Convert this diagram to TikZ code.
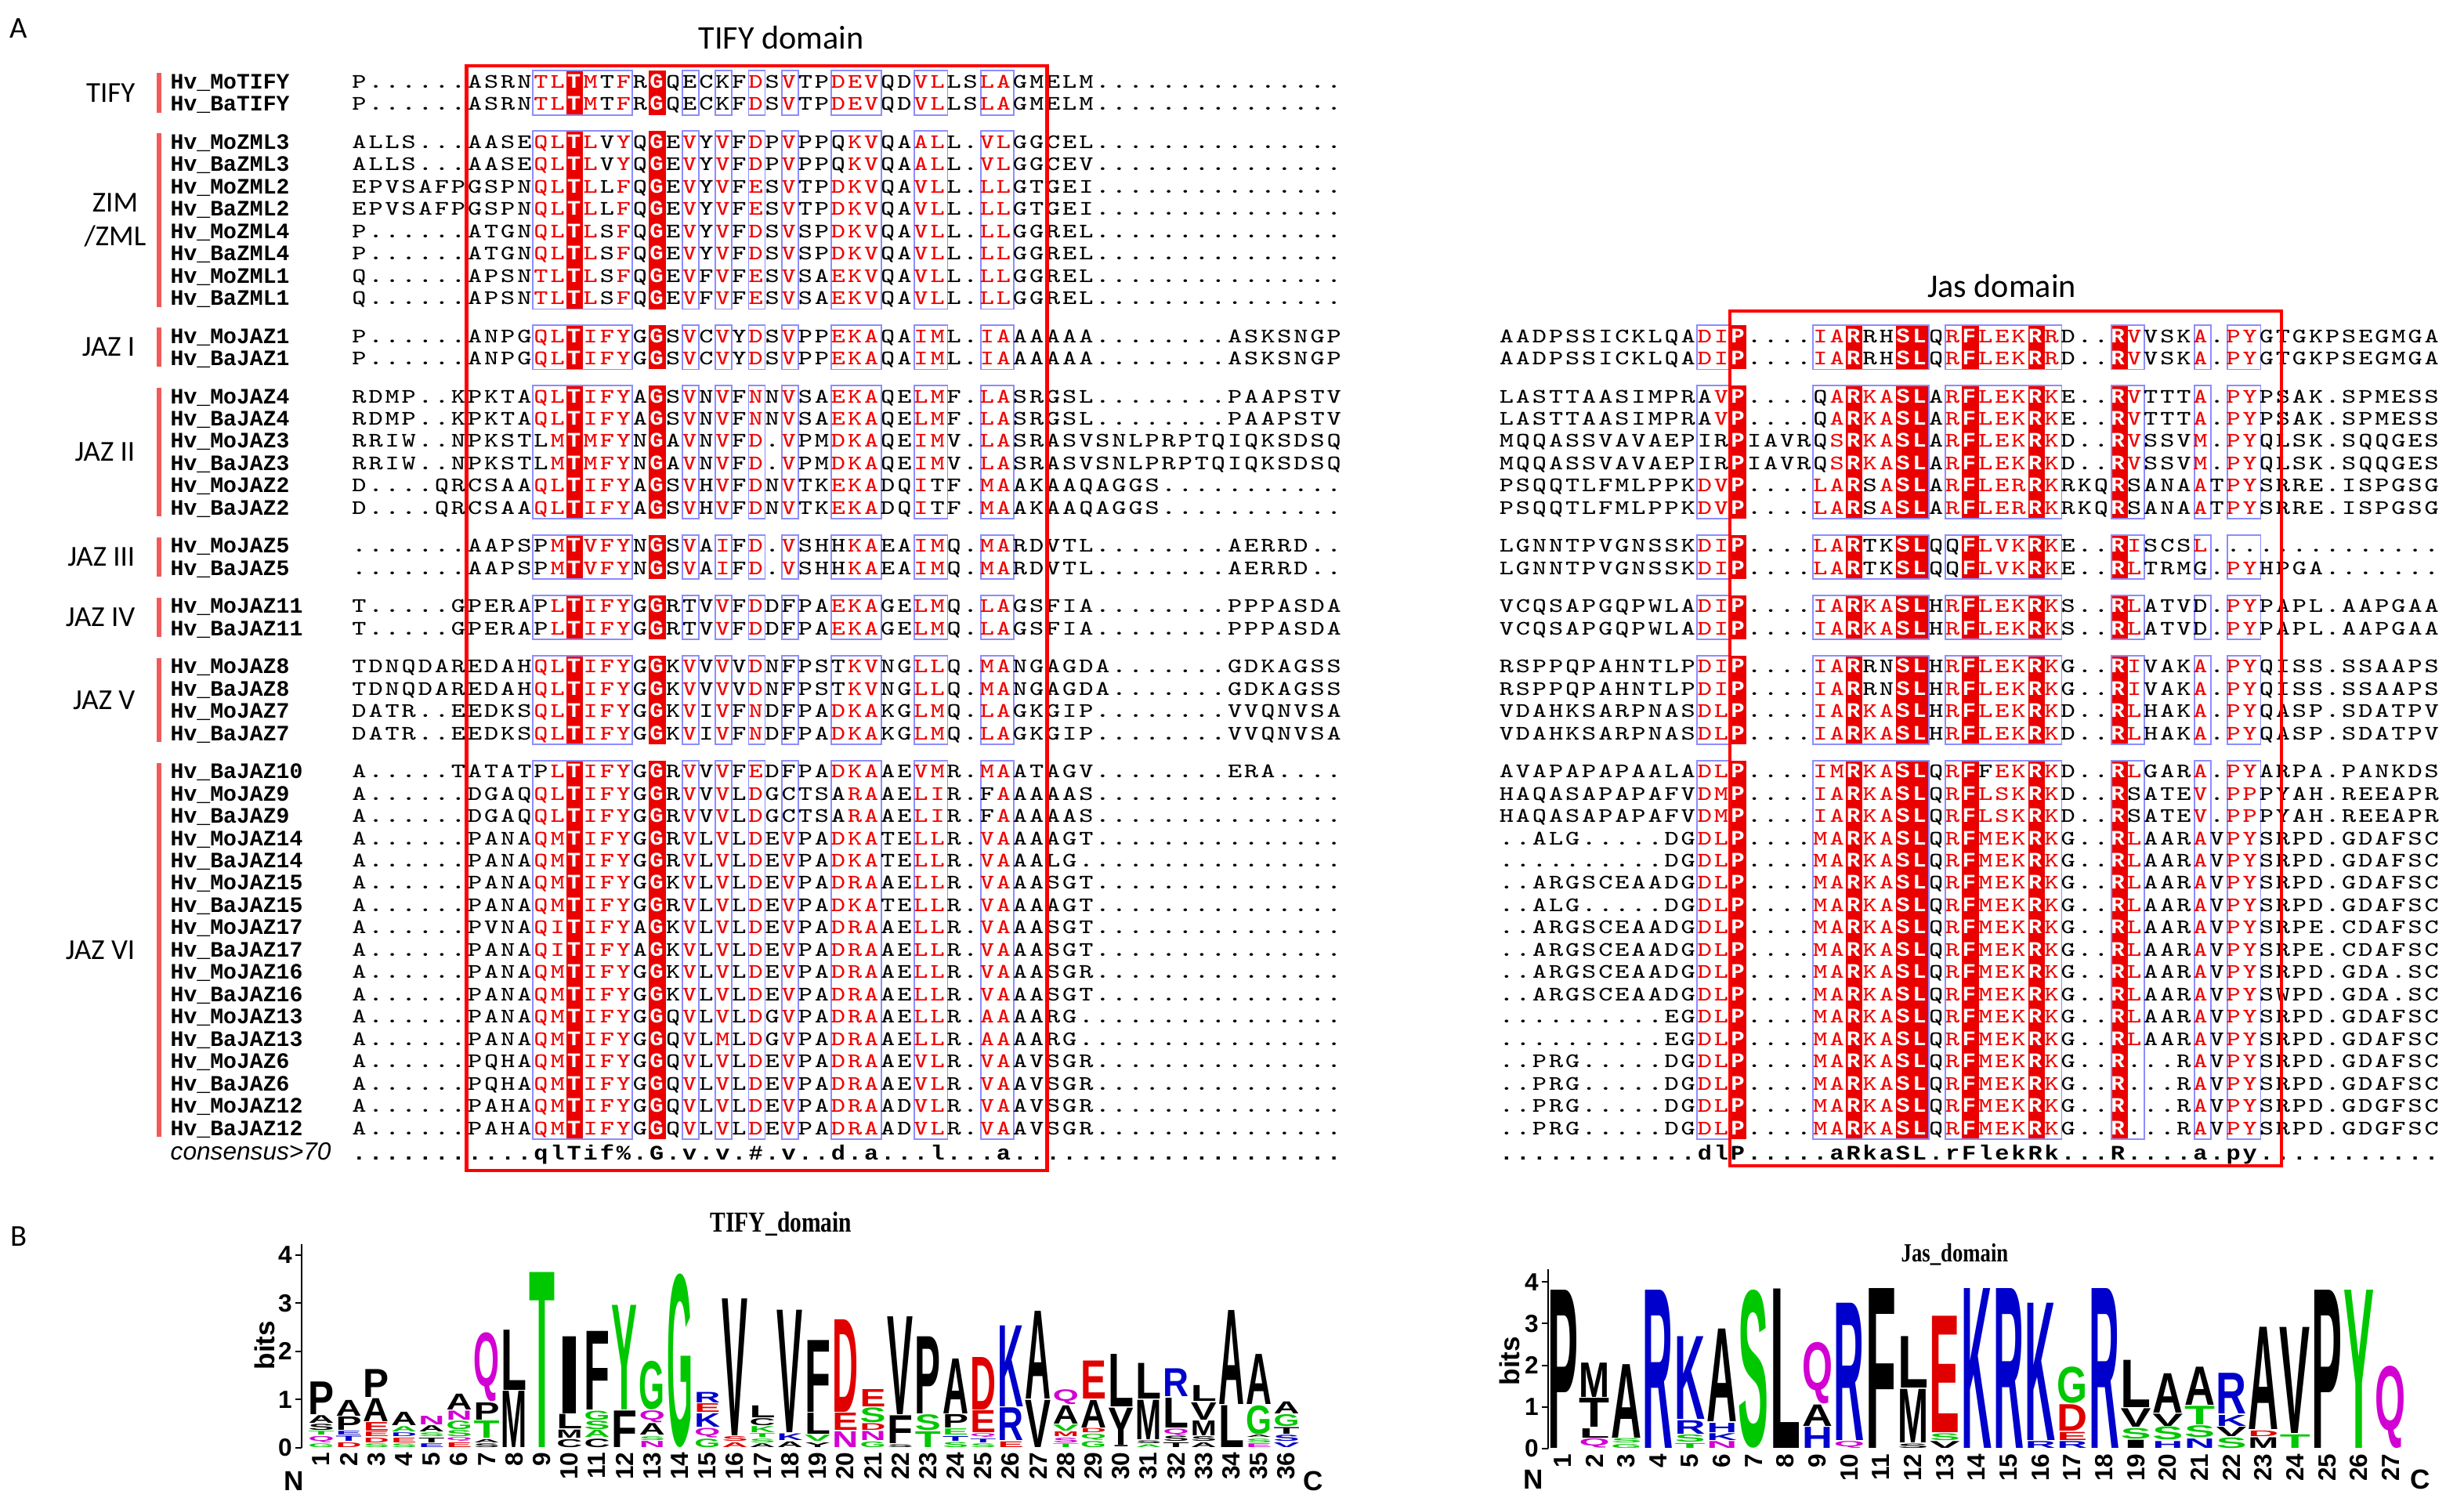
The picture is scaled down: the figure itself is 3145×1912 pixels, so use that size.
\documentclass[tikz,border=0pt]{standalone}
\usepackage{fontspec}
\usepackage{graphicx}
\usetikzlibrary{positioning}
\newfontfamily\namefont{Liberation Mono}
\newfontfamily\lblfont{Carlito}
\newfontfamily\logofont{Liberation Sans}
\newfontfamily\ttlfont{Liberation Serif}
\definecolor{alnred}{RGB}{240,0,0}
\definecolor{fillred}{RGB}{235,0,0}
\definecolor{framblue}{RGB}{140,140,255}
\definecolor{barred}{RGB}{240,90,90}
\definecolor{lk}{RGB}{0,0,0}
\definecolor{lg}{RGB}{0,200,0}
\definecolor{lb}{RGB}{0,0,204}
\definecolor{lr}{RGB}{225,0,0}
\definecolor{lm}{RGB}{210,0,210}

% alignment rows: lowercase = similar (red), fill columns = identical (white on red)
\newcount\colno
\def\fillset{L}
\def\markfill#1#2{\expandafter\def\csname fc@#1#2\endcsname{}}
\markfill{L}{14}\markfill{L}{19}
\markfill{R}{15}\markfill{R}{22}\markfill{R}{25}\markfill{R}{26}
\markfill{R}{29}\markfill{R}{33}\markfill{R}{38}
\def\alnbox#1{\makebox[6pt]{\scalebox{1.3}[1]{#1}}}
\def\alnput#1{\advance\colno by 1
  \ifnum\uccode`#1=0 \alnbox{#1}%
  \else\ifnum\uccode`#1=`#1
    \ifcsname fc@\fillset\the\colno\endcsname
      \makebox[6pt]{\scalebox{1.1}[1]{\color{white}\namefont\bfseries #1}}%
    \else\alnbox{#1}\fi
  \else\alnbox{\color{alnred}\uppercase{#1}}%
  \fi\fi}
\def\alnloop#1{\ifx#1\relax\else\alnput{#1}\expandafter\alnloop\fi}
\def\alnrow#1{\colno=0 \alnloop#1\relax}
\def\consloop#1{\ifx#1\relax\else\makebox[6pt]{\scalebox{1.15}[1]{#1}}\expandafter\consloop\fi}

\begin{document}
\begin{tikzpicture}[
    x=0.1mm, y=-0.1mm,
    seqname/.style={anchor=base west, inner sep=0, font=\namefont\bfseries\fontsize{8}{9}\selectfont},
    seqtext/.style={anchor=base west, inner sep=0, font=\ttfamily\fontsize{7.5}{9}\selectfont},
    constext/.style={anchor=base west, inner sep=0, font=\namefont\bfseries\fontsize{7.5}{9}\selectfont},
    grplabel/.style={anchor=east, inner sep=0, align=center, font=\lblfont\fontsize{10.5}{12}\selectfont},
    paneltitle/.style={inner sep=0, font=\lblfont\fontsize{12}{14}\selectfont},
    fillcell/.style={fill=fillred, draw=none},
    framecell/.style={draw=framblue, line width=0.5pt},
    domainbox/.style={draw=red, line width=1.2pt},
    groupbar/.style={draw=barred, line width=1.6pt},
    logoletter/.style={inner sep=0, outer sep=0, anchor=south, font=\logofont\bfseries},
    logoaxis/.style={draw=black, line width=0.6pt},
    ticklabel/.style={anchor=east, inner sep=1pt, font=\logofont\bfseries\fontsize{9}{9}\selectfont},
    colnum/.style={rotate=90, anchor=east, inner sep=0, font=\logofont\bfseries\fontsize{9}{9}\selectfont},
    endlabel/.style={inner sep=0, font=\logofont\bfseries\fontsize{10}{10}\selectfont},
    logotitle/.style={inner sep=0, font=\ttlfont\bfseries\fontsize{10.5}{12}\selectfont}
]
\useasboundingbox (0,0) rectangle (3145,1912);
\fill[white] (0,0) rectangle (3145,1912);

\newcommand\colbox[7]{\draw[#7] ({#1+(#5-1)*21.17},{104.3+28.46*#2+20.06*#4-14}) rectangle ({#1+#6*21.17},{104.3+28.46*#3+20.06*#4+14});}
\newcommand\seqrow[5]{%
  \pgfmathsetmacro\ry{104.3+28.46*#1+20.06*#2}%
  \node[seqname] (n#1) at (217,\ry+9) {Hv\_#3};
  \node[seqtext] (l#1) at (447.3,\ry+8) {\def\fillset{L}\alnrow{#4}};
  \ifx\relax#5\relax\else
    \node[seqtext] (r#1) at (1911.6,\ry+8) {\def\fillset{R}\alnrow{#5}};
  \fi}
\newcommand\logocol[5]{%
  \gdef\lbot{0}%
  \foreach \lt/\lc/\lh in {#5}{%
    \pgfmathsetlengthmacro\lhh{max(\lh*#3*0.1mm-0.14mm,0.06mm)}%
    \node[logoletter, text=\lc] at ({#1},{#2-\lbot*#3-0.7}) {\resizebox*{#4}{\lhh}{\lt}};
    \pgfmathparse{\lbot+\lh}\xdef\lbot{\pgfmathresult}}}
\newcommand\tifycol[2]{\logocol{410+(#1-1)*35.2}{1848}{61.6}{3.3mm}{#2}}
\newcommand\jascol[2]{\logocol{1994.5+(#1-1)*40.65}{1849}{53.2}{3.9mm}{#2}}

% panel A: shading and frames
\foreach \ra/\rb/\gg in {0/1/0,2/9/1,10/11/2,12/17/3,18/19/4,20/21/5,22/25/6,26/42/7}{
  \foreach \ca/\cb in {14/14,19/19} {\colbox{447.3}{\ra}{\rb}{\gg}{\ca}{\cb}{fillcell}}
  \foreach \ca/\cb in {12/17,21/21,23/23,25/25,27/27,30/32,35/36,39/40} {\colbox{447.3}{\ra}{\rb}{\gg}{\ca}{\cb}{framecell}}
  \draw[groupbar] (203,{104.3+28.46*\ra+20.06*\gg-11}) -- (203,{104.3+28.46*\rb+20.06*\gg+11});
}
\foreach \ra/\rb/\gg in {10/11/2,12/17/3,18/19/4,20/21/5,22/25/6,26/42/7}{
  \foreach \ca/\cb in {15/15,22/22,25/26,29/29,33/33,38/38} {\colbox{1911.6}{\ra}{\rb}{\gg}{\ca}{\cb}{fillcell}}
  \foreach \ca/\cb in {13/14,20/26,28/34,38/39,43/43,45/46} {\colbox{1911.6}{\ra}{\rb}{\gg}{\ca}{\cb}{framecell}}
}

% group labels
\node[grplabel] (gTIFY) at (173,118.5) {TIFY};
\node[grplabel] (gZML) at (187,280.9) {ZIM\\/ZML};
\node[grplabel] (gJ1) at (173,443.2) {JAZ I};
\node[grplabel] (gJ2) at (173,577.2) {JAZ II};
\node[grplabel] (gJ3) at (173,711) {JAZ III};
\node[grplabel] (gJ4) at (173,788) {JAZ IV};
\node[grplabel] (gJ5) at (173,893.5) {JAZ V};
\node[grplabel] (gJ6) at (173,1212.3) {JAZ VI};

% sequences
\seqrow{0}{0}{MoTIFY}{P......ASRNtlTmTfRGQECKFdSvTPdevQDvlLSlaGMELM...............}{}
\seqrow{1}{0}{BaTIFY}{P......ASRNtlTmTfRGQECKFdSvTPdevQDvlLSlaGMELM...............}{}
\seqrow{2}{1}{MoZML3}{ALLS...AASEqlTlVyQGEvYvFdPvPPQkvQAalL.vlGGCEL...............}{}
\seqrow{3}{1}{BaZML3}{ALLS...AASEqlTlVyQGEvYvFdPvPPQkvQAalL.vlGGCEV...............}{}
\seqrow{4}{1}{MoZML2}{EPVSAFPGSPNqlTlLfQGEvYvFeSvTPdkvQAvlL.llGTGEI...............}{}
\seqrow{5}{1}{BaZML2}{EPVSAFPGSPNqlTlLfQGEvYvFeSvTPdkvQAvlL.llGTGEI...............}{}
\seqrow{6}{1}{MoZML4}{P......ATGNqlTlSfQGEvYvFdSvSPdkvQAvlL.llGGREL...............}{}
\seqrow{7}{1}{BaZML4}{P......ATGNqlTlSfQGEvYvFdSvSPdkvQAvlL.llGGREL...............}{}
\seqrow{8}{1}{MoZML1}{Q......APSNtlTlSfQGEvFvFeSvSAekvQAvlL.llGGREL...............}{}
\seqrow{9}{1}{BaZML1}{Q......APSNtlTlSfQGEvFvFeSvSAekvQAvlL.llGGREL...............}{}
\seqrow{10}{2}{MoJAZ1}{P......ANPGqlTifyGGSvCvYdSvPPekaQAimL.iaAAAAA........ASKSNGP}{AADPSSICKLQAdiP....iaRRHSLQrFlekRrD..RvVSKa.pyGTGKPSEGMGA}
\seqrow{11}{2}{BaJAZ1}{P......ANPGqlTifyGGSvCvYdSvPPekaQAimL.iaAAAAA........ASKSNGP}{AADPSSICKLQAdiP....iaRRHSLQrFlekRrD..RvVSKa.pyGTGKPSEGMGA}
\seqrow{12}{3}{MoJAZ4}{RDMP..KPKTAqlTifyAGSvNvFnNvSAekaQElmF.laSRGSL........PAAPSTV}{LASTTAASIMPRAvP....QaRkaSLArFlekRkE..RvTTTa.pyPSAK.SPMESS}
\seqrow{13}{3}{BaJAZ4}{RDMP..KPKTAqlTifyAGSvNvFnNvSAekaQElmF.laSRGSL........PAAPSTV}{LASTTAASIMPRAvP....QaRkaSLArFlekRkE..RvTTTa.pyPSAK.SPMESS}
\seqrow{14}{3}{MoJAZ3}{RRIW..NPKSTLmTmfyNGAvNvFd.vPMdkaQEimV.laSRASVSNLPRPTQIQKSDSQ}{MQQASSVAVAEPIRPIAVRQsRkaSLArFlekRkD..RvSSVm.pyQLSK.SQQGES}
\seqrow{15}{3}{BaJAZ3}{RRIW..NPKSTLmTmfyNGAvNvFd.vPMdkaQEimV.laSRASVSNLPRPTQIQKSDSQ}{MQQASSVAVAEPIRPIAVRQsRkaSLArFlekRkD..RvSSVm.pyQLSK.SQQGES}
\seqrow{16}{3}{MoJAZ2}{D....QRCSAAqlTifyAGSvHvFdNvTKekaDQiTF.maAKAAQAGGS...........}{PSQQTLFMLPPKdvP....laRSaSLArFlerRkRKQRSANAaTpySRRE.ISPGSG}
\seqrow{17}{3}{BaJAZ2}{D....QRCSAAqlTifyAGSvHvFdNvTKekaDQiTF.maAKAAQAGGS...........}{PSQQTLFMLPPKdvP....laRSaSLArFlerRkRKQRSANAaTpySRRE.ISPGSG}
\seqrow{18}{4}{MoJAZ5}{.......AAPSPmTvfyNGSvAiFd.vSHHkaEAimQ.maRDVTL........AERRD..}{LGNNTPVGNSSKdiP....laRTKSLQQFlvkRkE..RiSCSl..............}
\seqrow{19}{4}{BaJAZ5}{.......AAPSPmTvfyNGSvAiFd.vSHHkaEAimQ.maRDVTL........AERRD..}{LGNNTPVGNSSKdiP....laRTKSLQQFlvkRkE..RlTRMG.pyHPGA.......}
\seqrow{20}{5}{MoJAZ11}{T.....GPERAPlTifyGGRTVvFdDFPAekaGElmQ.laGSFIA........PPPASDA}{VCQSAPGQPWLAdiP....iaRkaSLHrFlekRkS..RlATVD.pyPAPL.AAPGAA}
\seqrow{21}{5}{BaJAZ11}{T.....GPERAPlTifyGGRTVvFdDFPAekaGElmQ.laGSFIA........PPPASDA}{VCQSAPGQPWLAdiP....iaRkaSLHrFlekRkS..RlATVD.pyPAPL.AAPGAA}
\seqrow{22}{6}{MoJAZ8}{TDNQDAREDAHqlTifyGGKvVvVdNFPSTkvNGllQ.maNGAGDA.......GDKAGSS}{RSPPQPAHNTLPdiP....iaRRNSLHrFlekRkG..RiVAKa.pyQISS.SSAAPS}
\seqrow{23}{6}{BaJAZ8}{TDNQDAREDAHqlTifyGGKvVvVdNFPSTkvNGllQ.maNGAGDA.......GDKAGSS}{RSPPQPAHNTLPdiP....iaRRNSLHrFlekRkG..RiVAKa.pyQISS.SSAAPS}
\seqrow{24}{6}{MoJAZ7}{DATR..EEDKSqlTifyGGKvIvFnDFPAdkaKGlmQ.laGKGIP........VVQNVSA}{VDAHKSARPNASdlP....iaRkaSLHrFlekRkD..RlHAKa.pyQASP.SDATPV}
\seqrow{25}{6}{BaJAZ7}{DATR..EEDKSqlTifyGGKvIvFnDFPAdkaKGlmQ.laGKGIP........VVQNVSA}{VDAHKSARPNASdlP....iaRkaSLHrFlekRkD..RlHAKa.pyQASP.SDATPV}
\seqrow{26}{7}{BaJAZ10}{A.....TATATPlTifyGGRvVvFeDFPAdkaAEvmR.maATAGV........ERA....}{AVAPAPAPAALAdlP....imRkaSLQrFFekRkD..RlGARa.pyARPA.PANKDS}
\seqrow{27}{7}{MoJAZ9}{A......DGAQqlTifyGGRvVvLdGCTSAraAEliR.FaAAAAS...............}{HAQASAPAPAFVdmP....iaRkaSLQrFlskRkD..RSATEv.ppPYAH.REEAPR}
\seqrow{28}{7}{BaJAZ9}{A......DGAQqlTifyGGRvVvLdGCTSAraAEliR.FaAAAAS...............}{HAQASAPAPAFVdmP....iaRkaSLQrFlskRkD..RSATEv.ppPYAH.REEAPR}
\seqrow{29}{7}{MoJAZ14}{A......PANAqmTifyGGRvLvLdEvPAdkaTEllR.vaAAAGT...............}{..ALG.....DGdlP....maRkaSLQrFmekRkG..RlAARaVpySRPD.GDAFSC}
\seqrow{30}{7}{BaJAZ14}{A......PANAqmTifyGGRvLvLdEvPAdkaTEllR.vaAALG................}{..........DGdlP....maRkaSLQrFmekRkG..RlAARaVpySRPD.GDAFSC}
\seqrow{31}{7}{MoJAZ15}{A......PANAqmTifyGGKvLvLdEvPAdraAEllR.vaAASGT...............}{..ARGSCEAADGdlP....maRkaSLQrFmekRkG..RlAARaVpySRPD.GDAFSC}
\seqrow{32}{7}{BaJAZ15}{A......PANAqmTifyGGRvLvLdEvPAdkaTEllR.vaAAAGT...............}{..ALG.....DGdlP....maRkaSLQrFmekRkG..RlAARaVpySRPD.GDAFSC}
\seqrow{33}{7}{MoJAZ17}{A......PVNAqiTifyAGKvLvLdEvPAdraAEllR.vaAASGT...............}{..ARGSCEAADGdlP....maRkaSLQrFmekRkG..RlAARaVpySRPE.CDAFSC}
\seqrow{34}{7}{BaJAZ17}{A......PANAqiTifyAGKvLvLdEvPAdraAEllR.vaAASGT...............}{..ARGSCEAADGdlP....maRkaSLQrFmekRkG..RlAARaVpySRPE.CDAFSC}
\seqrow{35}{7}{MoJAZ16}{A......PANAqmTifyGGKvLvLdEvPAdraAEllR.vaAASGR...............}{..ARGSCEAADGdlP....maRkaSLQrFmekRkG..RlAARaVpySRPD.GDA.SC}
\seqrow{36}{7}{BaJAZ16}{A......PANAqmTifyGGKvLvLdEvPAdraAEllR.vaAASGT...............}{..ARGSCEAADGdlP....maRkaSLQrFmekRkG..RlAARaVpySWPD.GDA.SC}
\seqrow{37}{7}{MoJAZ13}{A......PANAqmTifyGGQvLvLdGvPAdraAEllR.aaAARG................}{..........EGdlP....maRkaSLQrFmekRkG..RlAARaVpySRPD.GDAFSC}
\seqrow{38}{7}{BaJAZ13}{A......PANAqmTifyGGQvLmLdGvPAdraAEllR.aaAARG................}{..........EGdlP....maRkaSLQrFmekRkG..RlAARaVpySRPD.GDAFSC}
\seqrow{39}{7}{MoJAZ6}{A......PQHAqmTifyGGQvLvLdEvPAdraAEvlR.vaAVSGR...............}{..PRG.....DGdlP....maRkaSLQrFmekRkG..R...RaVpySRPD.GDAFSC}
\seqrow{40}{7}{BaJAZ6}{A......PQHAqmTifyGGQvLvLdEvPAdraAEvlR.vaAVSGR...............}{..PRG.....DGdlP....maRkaSLQrFmekRkG..R...RaVpySRPD.GDAFSC}
\seqrow{41}{7}{MoJAZ12}{A......PAHAqmTifyGGQvLvLdEvPAdraADvlR.vaAVSGR...............}{..PRG.....DGdlP....maRkaSLQrFmekRkG..R...RaVpySRPD.GDGFSC}
\seqrow{42}{7}{BaJAZ12}{A......PAHAqmTifyGGQvLvLdEvPAdraADvlR.vaAVSGR...............}{..PRG.....DGdlP....maRkaSLQrFmekRkG..R...RaVpySRPD.GDGFSC}

% consensus
\node[anchor=base west, inner sep=0, font=\logofont\itshape\fontsize{9}{9}\selectfont] (ncons) at (217,1480) {consensus>70};
\node[constext] (lcons) at (447.3,1480) {\consloop...........qlTif\%.G.v.v.\#.v..d.a...l...a....................\relax};
\node[constext] (rcons) at (1911.6,1480) {\consloop............dlP.....aRkaSL.rFlekRk...R....a.py...........\relax};

% domain boxes
\draw[domainbox] (595.5,84) rectangle (1336.5,1494);
\draw[domainbox] (2208,397) rectangle (2912,1488);
\node[paneltitle] (tTIFY) at (997,48) {TIFY domain};
\node[paneltitle] (tJas) at (2555,365) {Jas domain};
\node[paneltitle, font=\lblfont\fontsize{11}{12}\selectfont] (pA) at (24,36) {A};
\node[paneltitle, font=\lblfont\fontsize{11}{12}\selectfont] (pB) at (24,1578) {B};

% panel B: TIFY logo
\draw[logoaxis] (385,1848) -- (385,1588);
\foreach \k in {0,...,4} {
  \draw[logoaxis] (377,{1848-61.6*\k}) -- (385,{1848-61.6*\k});
  \node[ticklabel] (ta\k) at (377,{1848-61.6*\k}) {\k};
}
\node[endlabel, rotate=90] (tbits) at (338,1717) {bits};
\foreach \i in {1,...,36} \node[colnum] (tn\i) at ({410+(\i-1)*35.2},1853) {\i};
\node[endlabel] (tN) at (375,1890) {N};
\node[endlabel] (tC) at (1676,1890) {C};
\node[logotitle] (tlogo) at (997,1562) {\scalebox{0.8}[1]{TIFY\_domain}};
\tifycol{1}{G/lg/0.1, Q/lm/0.15, T/lg/0.1, S/lk/0.15, A/lk/0.18, P/lk/0.7}
\tifycol{2}{D/lr/0.12, T/lb/0.13, E/lb/0.1, P/lk/0.3, A/lk/0.35}
\tifycol{3}{S/lg/0.1, D/lr/0.12, E/lr/0.12, E/lr/0.2, A/lk/0.5, P/lk/0.6}
\tifycol{4}{S/lg/0.1, E/lr/0.12, D/lb/0.1, A/lg/0.13, A/lk/0.3}
\tifycol{5}{E/lb/0.1, T/lk/0.12, S/lg/0.1, A/lk/0.15, N/lm/0.2}
\tifycol{6}{E/lr/0.12, Q/lm/0.1, S/lg/0.15, G/lg/0.2, N/lm/0.21, A/lk/0.35}
\tifycol{7}{S/lk/0.1, A/lk/0.09, T/lg/0.38, P/lk/0.38, Q/lm/1.45}
\tifycol{8}{M/lk/1.19, L/lk/1.27}
\tifycol{9}{T/lg/3.65}
\tifycol{10}{C/lk/0.19, M/lk/0.19, L/lk/0.32, I/lk/1.62}
\tifycol{11}{C/lk/0.2, A/lg/0.17, S/lg/0.2, G/lg/0.21, F/lk/1.65}
\tifycol{12}{F/lk/0.78, Y/lg/2.19}
\tifycol{13}{N/lm/0.15, S/lg/0.1, A/lk/0.26, Q/lm/0.27, G/lg/1.03}
\tifycol{14}{G/lg/3.62}
\tifycol{15}{G/lg/0.2, Q/lm/0.22, K/lb/0.3, E/lr/0.2, R/lb/0.24}
\tifycol{16}{A/lr/0.12, S/lr/0.12, V/lk/2.86}
\tifycol{17}{A/lk/0.1, S/lg/0.1, T/lg/0.1, K/lg/0.15, C/lk/0.17, L/lk/0.27}
\tifycol{18}{A/lk/0.14, K/lb/0.16, V/lk/2.56}
\tifycol{19}{Y/lk/0.12, V/lg/0.15, L/lk/0.46, F/lk/1.51}
\tifycol{20}{N/lm/0.35, E/lr/0.38, D/lr/1.94}
\tifycol{21}{G/lg/0.14, N/lm/0.21, D/lr/0.16, S/lg/0.33, E/lr/0.38}
\tifycol{22}{S/lk/0.08, F/lk/0.6, V/lk/2.05}
\tifycol{23}{T/lg/0.35, S/lg/0.35, P/lk/1.62}
\tifycol{24}{S/lg/0.13, T/lb/0.12, E/lg/0.15, P/lk/0.3, A/lk/1.16}
\tifycol{25}{S/lg/0.1, T/lb/0.1, Q/lm/0.1, E/lr/0.48, D/lr/1.11}
\tifycol{26}{E/lr/0.14, R/lb/0.7, K/lb/1.7}
\tifycol{27}{V/lk/1.0, A/lk/1.84}
\tifycol{28}{T/lg/0.1, S/lm/0.12, M/lr/0.12, V/lg/0.15, A/lk/0.4, Q/lm/0.33}
\tifycol{29}{G/lg/0.15, Q/lg/0.15, D/lr/0.11, A/lk/0.59, E/lr/0.81}
\tifycol{30}{I/lk/0.05, Y/lk/0.79, L/lk/1.11}
\tifycol{31}{A/lg/0.08, S/lk/0.08, M/lk/0.84, L/lk/0.76}
\tifycol{32}{T/lk/0.12, S/lk/0.13, Q/lm/0.16, L/lk/0.64, R/lb/0.6}
\tifycol{33}{A/lk/0.12, S/lk/0.12, M/lk/0.33, V/lk/0.38, L/lk/0.35}
\tifycol{34}{L/lk/0.89, A/lk/1.97}
\tifycol{35}{E/lm/0.1, S/lg/0.1, A/lk/0.07, G/lg/0.62, A/lk/1.06}
\tifycol{36}{V/lb/0.12, S/lb/0.15, T/lk/0.16, G/lg/0.27, A/lk/0.27}

% panel B: Jas logo
\draw[logoaxis] (1976,1849) -- (1976,1620);
\foreach \k in {0,...,4} {
  \draw[logoaxis] (1968,{1849-53.2*\k}) -- (1976,{1849-53.2*\k});
  \node[ticklabel] (ja\k) at (1968,{1849-53.2*\k}) {\k};
}
\node[endlabel, rotate=90] (jbits) at (1927,1737) {bits};
\foreach \i in {1,...,27} \node[colnum] (jn\i) at ({1994.5+(\i-1)*40.65},1855) {\i};
\node[endlabel] (jN) at (1957,1888) {N};
\node[endlabel] (jC) at (3089,1888) {C};
\node[logotitle, font=\ttlfont\bfseries\fontsize{9.5}{11}\selectfont] (jlogo) at (2495,1601) {\scalebox{0.8}[1]{Jas\_domain}};
\jascol{1}{P/lk/3.82}
\jascol{2}{Q/lm/0.25, L/lk/0.25, T/lk/0.72, M/lk/0.85}
\jascol{3}{G/lg/0.12, S/lg/0.13, A/lk/1.79}
\jascol{4}{R/lb/3.82}
\jascol{5}{T/lg/0.14, S/lg/0.2, R/lb/0.35, K/lb/2.01}
\jascol{6}{N/lm/0.19, K/lb/0.19, H/lb/0.25, A/lk/2.25}
\jascol{7}{S/lg/3.82}
\jascol{8}{L/lk/3.85}
\jascol{9}{H/lb/0.53, A/lk/0.54, Q/lm/1.5}
\jascol{10}{Q/lm/0.19, R/lb/3.32}
\jascol{11}{F/lk/3.86}
\jascol{12}{S/lk/0.13, M/lk/1.31, L/lk/1.26}
\jascol{13}{V/lk/0.19, S/lg/0.19, E/lr/2.82}
\jascol{14}{K/lb/3.86}
\jascol{15}{R/lb/3.86}
\jascol{16}{R/lb/0.19, K/lb/3.32}
\jascol{17}{R/lb/0.19, E/lr/0.22, D/lr/0.66, G/lg/0.9}
\jascol{18}{R/lb/3.86}
\jascol{19}{I/lk/0.22, S/lg/0.28, V/lk/0.47, L/lk/1.16}
\jascol{20}{H/lb/0.19, S/lg/0.34, V/lk/0.32, A/lk/0.97}
\jascol{21}{N/lb/0.25, S/lg/0.31, T/lg/0.47, A/lk/0.94}
\jascol{22}{S/lg/0.28, V/lk/0.25, K/lb/0.29, R/lb/1.0}
\jascol{23}{M/lk/0.28, D/lr/0.16, A/lk/2.48}
\jascol{24}{T/lg/0.35, V/lk/2.57}
\jascol{25}{P/lk/3.82}
\jascol{26}{Y/lg/3.82}
\jascol{27}{Q/lm/2.0}
\end{tikzpicture}
\end{document}
